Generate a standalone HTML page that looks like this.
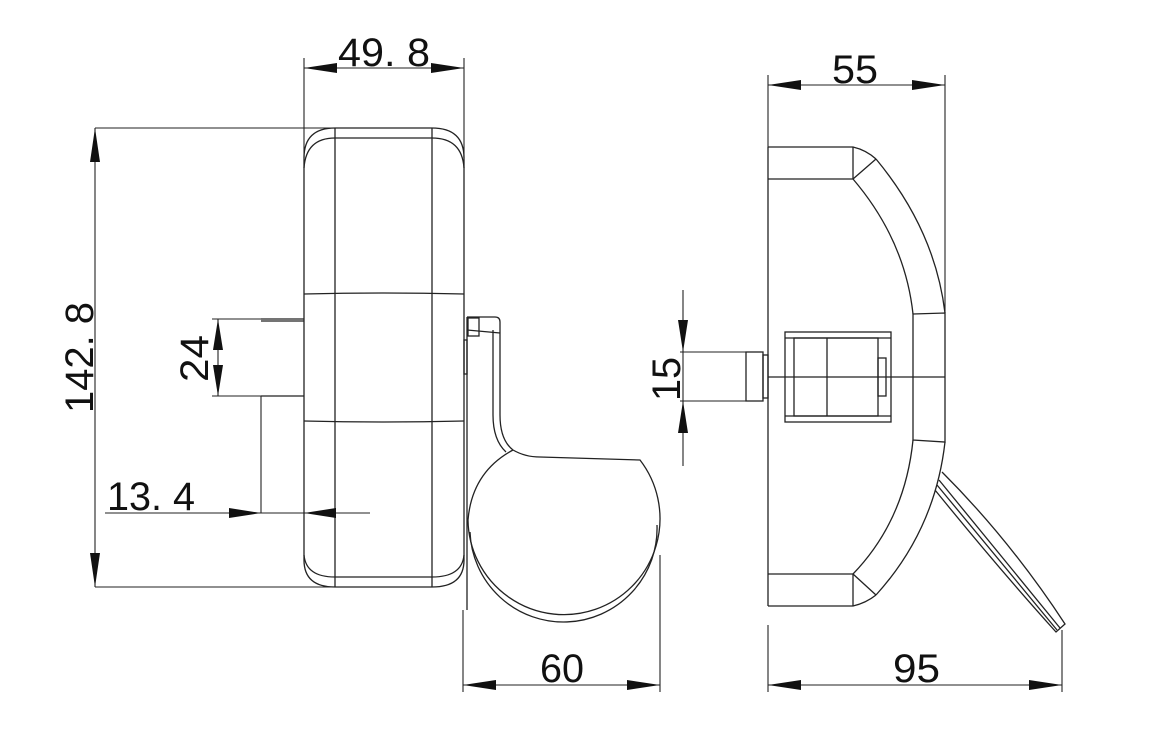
<!DOCTYPE html>
<html><head><meta charset="utf-8"><style>
html,body{margin:0;padding:0;background:#fff;}
svg{display:block;}
text{font-family:"Liberation Sans",sans-serif;fill:#111;}
</style></head><body>
<svg width="1170" height="751" viewBox="0 0 1170 751" xmlns="http://www.w3.org/2000/svg">
<g fill="none" stroke="#222" stroke-width="1.3">
<path d="M304,158 Q304,128 335,128 L432,128 Q464,128 464,158 L464,560 Q464,587 432,587 L335,587 Q304,587 304,560 Z"/>
<path d="M304,168 Q306,138 335,138 L432,138 Q462,138 464,168"/>
<path d="M304,555 Q306,577 335,577 L432,577 Q462,577 464,555"/>
<line x1="335" y1="128" x2="335" y2="587"/>
<line x1="432" y1="128" x2="432" y2="587"/>
<path d="M304,294 Q384,292 464,294"/>
<path d="M304,421 Q384,423 464,421"/>
<line x1="261" y1="319" x2="304" y2="319"/>
<line x1="261" y1="321" x2="304" y2="321"/>
<line x1="261" y1="396" x2="304" y2="396"/>
<!-- lever left -->
<path d="M467,317 L495,317 Q500,317 500,322 L500,415 Q500,440 513,450 Q525,457 540,457 L640,460 A96,96 0 1 1 468,520 Q472,472 513,450"/>
<path d="M657,525 A92,92 0 0 1 470,532"/>
<line x1="467" y1="317" x2="467" y2="610"/>
<line x1="493" y1="330" x2="493" y2="415"/>
<path d="M493,415 Q493,440 506,452"/>
<rect x="468" y="318" width="11" height="18"/>
<rect x="464" y="340" width="3" height="34"/>
<line x1="467" y1="330" x2="500" y2="333"/>
<!-- RIGHT VIEW -->
<line x1="768" y1="147" x2="768" y2="606"/>
<path d="M768,147 L853,147 Q866,150 876,159"/>
<line x1="768" y1="179" x2="853" y2="179"/>
<line x1="853" y1="147" x2="853" y2="179"/>
<line x1="853" y1="179" x2="876" y2="159"/>
<path d="M876,159 Q935,230 945,313"/>
<path d="M853,179 Q905,240 913,314"/>
<path d="M913,314 L945,313 L945,442 L913,440 Z"/>
<path d="M945,442 Q935,530 876,595"/>
<path d="M913,440 Q905,520 853,574"/>
<path d="M768,606 L853,606 Q866,603 876,595"/>
<line x1="768" y1="574" x2="853" y2="574"/>
<line x1="853" y1="574" x2="853" y2="606"/>
<line x1="853" y1="574" x2="876" y2="595"/>
<rect x="785" y="332" width="106" height="90"/>
<rect x="794" y="338" width="84" height="78"/>
<line x1="785" y1="338" x2="891" y2="338"/>
<line x1="785" y1="416" x2="891" y2="416"/>
<line x1="827" y1="338" x2="827" y2="416"/>
<rect x="878" y="358" width="8" height="38"/>
<line x1="768" y1="377" x2="945" y2="377"/>
<rect x="746" y="352" width="17" height="49"/>
<rect x="763" y="355" width="5" height="43"/>
<path d="M942,472 Q1010,540 1065,624 L1056,632 Q1000,570 935,490"/>
<path d="M939,480 L1060,628"/>
<path d="M937,485 L1057,630"/>
<g stroke-width="1.1">
<line x1="304" y1="58" x2="304" y2="158"/>
<line x1="464" y1="58" x2="464" y2="158"/>
<line x1="304" y1="68" x2="464" y2="68"/>
<line x1="95" y1="128" x2="335" y2="128"/>
<line x1="95" y1="587" x2="335" y2="587"/>
<line x1="95" y1="128" x2="95" y2="587"/>
<line x1="212" y1="319" x2="261" y2="319"/>
<line x1="212" y1="396" x2="261" y2="396"/>
<line x1="218" y1="319" x2="218" y2="396"/>
<line x1="261" y1="396" x2="261" y2="513"/>
<line x1="105" y1="513" x2="370" y2="513"/>
<line x1="683" y1="290" x2="683" y2="466"/>
<line x1="680" y1="352" x2="746" y2="352"/>
<line x1="680" y1="401" x2="746" y2="401"/>
<line x1="768" y1="75" x2="768" y2="147"/>
<line x1="945" y1="75" x2="945" y2="313"/>
<line x1="768" y1="85" x2="945" y2="85"/>
<line x1="463" y1="610" x2="463" y2="692"/>
<line x1="660" y1="555" x2="660" y2="692"/>
<line x1="463" y1="685" x2="660" y2="685"/>
<line x1="768" y1="625" x2="768" y2="692"/>
<line x1="1062" y1="630" x2="1062" y2="692"/>
<line x1="768" y1="685" x2="1062" y2="685"/>
</g>
</g>
<g fill="#111">
<polygon points="304,68 337,63 337,73"/><polygon points="464,68 431,63 431,73"/>
<polygon points="95,128 90,162 100,162"/><polygon points="95,587 90,553 100,553"/>
<polygon points="218,319 213,350 223,350"/><polygon points="218,396 213,365 223,365"/>
<polygon points="261,513 229,508 229,518"/><polygon points="304,513 336,508 336,518"/>
<polygon points="683,352 678,320 688,320"/><polygon points="683,401 678,433 688,433"/>
<polygon points="768,85 801,80 801,90"/><polygon points="945,85 912,80 912,90"/>
<polygon points="463,685 496,680 496,690"/><polygon points="660,685 627,680 627,690"/>
<polygon points="768,685 801,680 801,690"/><polygon points="1062,685 1029,680 1029,690"/>
</g>
<g font-size="40">
<text x="338" y="66" textLength="92" lengthAdjust="spacingAndGlyphs">49. 8</text>
<text x="832" y="83" textLength="46" lengthAdjust="spacingAndGlyphs">55</text>
<text x="540" y="682" textLength="44" lengthAdjust="spacingAndGlyphs">60</text>
<text x="893" y="682" textLength="47" lengthAdjust="spacingAndGlyphs">95</text>
<text x="107" y="510" textLength="88" lengthAdjust="spacingAndGlyphs">13. 4</text>
<text transform="translate(93,413) rotate(-90)" textLength="111" lengthAdjust="spacingAndGlyphs">142. 8</text>
<text transform="translate(208,382) rotate(-90)" textLength="47" lengthAdjust="spacingAndGlyphs">24</text>
<text transform="translate(680,401) rotate(-90)" textLength="44" lengthAdjust="spacingAndGlyphs">15</text>
</g>
</svg>
</body></html>
